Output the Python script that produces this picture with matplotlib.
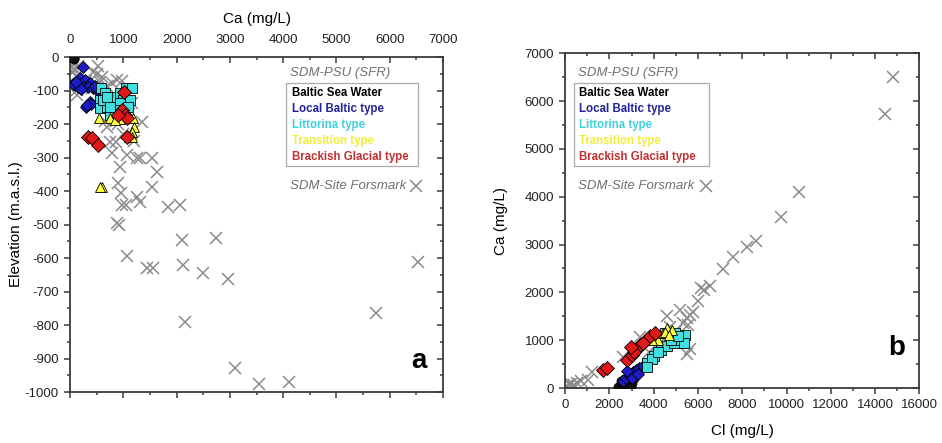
import matplotlib.pyplot as plt
from matplotlib.ticker import MultipleLocator

plt.rcParams['font.family'] = ['Liberation Sans', 'DejaVu Sans']
plt.rcParams['axes.unicode_minus'] = False

# ---- panel a: Ca vs elevation ----
forsmark_ca = [30, 60, 90, 50, 120, 20, 150, 530, 430, 880, 970, 560, 130, 130, 410,
               300, 700, 780, 600, 500, 1160, 690, 1350, 750, 870, 790, 1070, 1250,
               1310, 1530, 1630, 940, 910, 950, 1530, 1250, 1310, 970, 1060, 1840,
               2060, 875, 925, 1070, 1440, 1550, 2100, 2740, 2130, 2500, 2970, 2160,
               3100, 3550, 4110, 5740, 6530, 800, 1000, 1100, 650, 900, 1200, 1000]
forsmark_elev = [-10, -20, -35, -45, -55, -30, -25, -27, -45, -69, -70, -74, -98, -113,
                 -93, -70, -85, -78, -60, -50, -138, -209, -195, -253, -253, -287, -292,
                 -302, -302, -302, -342, -328, -377, -407, -387, -417, -432, -442, -442,
                 -447, -440, -496, -502, -594, -631, -631, -546, -540, -621, -644, -663,
                 -791, -929, -976, -969, -764, -612, -150, -120, -170, -190, -200, -250,
                 -230]

baltic_ca = [40, 60, 80, 70, 50]
baltic_elev = [-1, -3, -2, -5, -4]

local_ca = [190, 280, 375, 94, 150, 245, 340, 430, 500, 60, 240, 300, 375, 400, 325,
            120, 200, 460]
local_elev = [-63, -69, -77, -84, -89, -90, -89, -93, -98, -80, -30, -149, -134, -140,
              -142, -75, -95, -85]

littorina_ca = [590, 660, 560, 560, 690, 750, 810, 940, 1060, 1160, 1000, 845, 940, 750,
                1125, 620, 690, 906, 1095, 750]
littorina_elev = [-93, -108, -128, -153, -148, -134, -118, -108, -93, -93, -128, -148,
                  -138, -173, -128, -128, -118, -158, -148, -148]

transition_ca = [550, 940, 1190, 1200, 1160, 1100, 1160, 610, 560, 750, 845]
transition_elev = [-183, -186, -183, -208, -223, -237, -237, -387, -387, -183, -188]

glacial_ca = [340, 410, 530, 970, 1030, 1070, 1070, 1010, 910]
glacial_elev = [-239, -240, -263, -158, -173, -183, -239, -104, -173]

# ---- panel b: Cl vs Ca ----
forsmark_cl = [14830, 14430, 10540, 9730, 8600, 8190, 7560, 7150, 6520, 6150, 6260,
               6020, 5790, 5640, 5520, 5200, 5560, 4600, 4750, 5480, 5620, 3390, 2620,
               1220, 1040, 700, 100, 250, 400, 550, 180, 320, 4200, 3800, 5000, 5300]
forsmark_cl_ca = [6510, 5720, 4090, 3570, 3070, 2940, 2730, 2480, 2130, 2100, 2050,
                  1820, 1590, 1520, 1460, 1630, 1320, 1510, 1270, 710, 810, 1070, 650,
                  340, 170, 140, 40, 80, 60, 110, 90, 30, 900, 750, 1200, 1350]

baltic_cl = [2400, 2550, 2700, 2850, 3000, 2500, 2650, 2800, 2950, 3100]
baltic_cl_ca = [20, 40, 60, 80, 110, 150, 180, 140, 30, 200]

local_cl = [2600, 2750, 2900, 3050, 3200, 3350, 3500, 2800, 3000, 3300]
local_cl_ca = [150, 220, 280, 330, 380, 420, 470, 350, 200, 300]

littorina_cl = [3710, 4010, 4310, 4600, 4900, 5200, 5430, 5350, 4980, 4530, 3900, 4200,
                4800, 5100, 3700]
littorina_cl_ca = [520, 660, 800, 870, 940, 1010, 1110, 940, 1150, 1150, 600, 750, 1000,
                   1080, 440]

transition_cl = [4200, 4400, 4600, 4840, 4500, 3900, 4700]
transition_cl_ca = [1000, 1150, 1250, 1220, 1180, 1000, 1100]

glacial_cl = [1720, 1900, 2800, 3000, 3200, 3400, 3660, 3850, 4070, 3100, 3500, 2950]
glacial_cl_ca = [380, 420, 580, 700, 800, 900, 1000, 1080, 1150, 750, 950, 850]

cross_col = '#8a8a8a'
groups = [
    ('Baltic Sea Water', '#111111', '#000000', 'o', 6.5),
    ('Local Baltic type', '#1c1cc8', '#22229a', 'D', 6.5),
    ('Littorina type', '#40e0e0', '#40d0e0', 's', 7),
    ('Transition type', '#ffff40', '#f2ec3a', '^', 7.5),
    ('Brackish Glacial type', '#e01818', '#c43030', 'D', 7),
]

fig = plt.figure(figsize=(9.42, 4.43), dpi=100)
axa = fig.add_axes([0.0743, 0.115, 0.396, 0.756])
axb = fig.add_axes([0.600, 0.124, 0.376, 0.756])


def draw_groups(ax, xs, ys):
    for (name, face, txt, mk, ms), x, y in zip(groups, xs, ys):
        ax.plot(x, y, ls='none', marker=mk, ms=ms, mfc=face, mec='black',
                mew=0.6, zorder=3)


def style_axes(ax):
    for s in ax.spines.values():
        s.set_color('#3a3a3a')
        s.set_linewidth(1.3)
    ax.tick_params(which='both', colors='#3a3a3a', labelcolor='#222222',
                   labelsize=9.5, width=1.1)
    ax.tick_params(which='major', length=4.5)
    ax.tick_params(which='minor', length=2.5)


def legend_box(ax, x0, y0, w):
    # text-only legend, coordinates in axes fraction
    ax.text(x0 + 0.01, y0 + 0.03, 'SDM-PSU (SFR)', transform=ax.transAxes,
            style='italic', color='#707070', fontsize=9.5, va='center')
    box = plt.Rectangle((x0, y0 - 0.248), w, 0.248, transform=ax.transAxes,
                        fill=False, ec='#aaaaaa', lw=0.9, zorder=4)
    ax.add_patch(box)
    for i, (name, face, txt, mk, ms) in enumerate(groups):
        ax.text(x0 + 0.015, y0 - 0.028 - i * 0.048, name, transform=ax.transAxes,
                color=txt, fontsize=8.3, fontweight='bold', va='center', zorder=5)
    ax.text(x0 + 0.01, y0 - 0.307, 'SDM-Site Forsmark', transform=ax.transAxes,
            style='italic', color='#707070', fontsize=9.5, va='center')


def set_tick_sides(ax):
    # left/bottom ticks point out, top/right ticks point in
    ylines = ax.yaxis.get_ticklines(minor=False) + ax.yaxis.get_ticklines(minor=True)
    for t in ylines:
        t.set_marker(0)
    xlines = ax.xaxis.get_ticklines(minor=False) + ax.xaxis.get_ticklines(minor=True)
    for t in xlines:
        t.set_marker(3)


# panel a
axa.plot(forsmark_ca, forsmark_elev, ls='none', marker='x', ms=8, mew=1.1,
         color=cross_col, zorder=2)
draw_groups(axa, [baltic_ca, local_ca, littorina_ca, transition_ca, glacial_ca],
            [baltic_elev, local_elev, littorina_elev, transition_elev, glacial_elev])
axa.set_xlim(0, 7000)
axa.set_ylim(-1000, 0)
axa.xaxis.set_major_locator(MultipleLocator(1000))
axa.xaxis.set_minor_locator(MultipleLocator(500))
axa.yaxis.set_major_locator(MultipleLocator(100))
axa.yaxis.set_minor_locator(MultipleLocator(50))
axa.xaxis.tick_top()
axa.xaxis.set_label_position('top')
axa.tick_params(axis='x', which='both', top=True, bottom=True, labelbottom=False,
                labeltop=True)
axa.tick_params(axis='y', which='both', left=True, right=True)
style_axes(axa)
axa.set_xlabel('Ca (mg/L)', fontsize=11, labelpad=8)
axa.set_ylabel('Elevation (m.a.s.l.)', fontsize=11, labelpad=1)
legend_box(axa, 0.579, 0.922, 0.354)
axa.plot([0.927], [0.615], transform=axa.transAxes, ls='none', marker='x', ms=8,
         mew=1.1, color=cross_col)
axa.text(0.955, 0.055, 'a', transform=axa.transAxes, fontsize=20, fontweight='bold',
         ha='right', va='bottom')
set_tick_sides(axa)

# panel b
axb.plot(forsmark_cl, forsmark_cl_ca, ls='none', marker='x', ms=8, mew=1.1,
         color=cross_col, zorder=2)
draw_groups(axb, [baltic_cl, local_cl, littorina_cl, transition_cl, glacial_cl],
            [baltic_cl_ca, local_cl_ca, littorina_cl_ca, transition_cl_ca, glacial_cl_ca])
axb.set_xlim(0, 16000)
axb.set_ylim(0, 7000)
axb.xaxis.set_major_locator(MultipleLocator(2000))
axb.xaxis.set_minor_locator(MultipleLocator(1000))
axb.yaxis.set_major_locator(MultipleLocator(1000))
axb.yaxis.set_minor_locator(MultipleLocator(500))
axb.tick_params(axis='x', which='both', top=True)
axb.tick_params(axis='y', which='both', right=True)
style_axes(axb)
axb.set_xlabel('Cl (mg/L)', fontsize=11, labelpad=9)
axb.set_ylabel('Ca (mg/L)', fontsize=11, labelpad=12)
legend_box(axb, 0.025, 0.91, 0.38)
axb.plot([0.398], [0.603], transform=axb.transAxes, ls='none', marker='x', ms=8,
         mew=1.1, color=cross_col)
axb.text(0.96, 0.08, 'b', transform=axb.transAxes, fontsize=20, fontweight='bold',
         ha='right', va='bottom')
set_tick_sides(axb)

fig.savefig('out.png', dpi=100)
